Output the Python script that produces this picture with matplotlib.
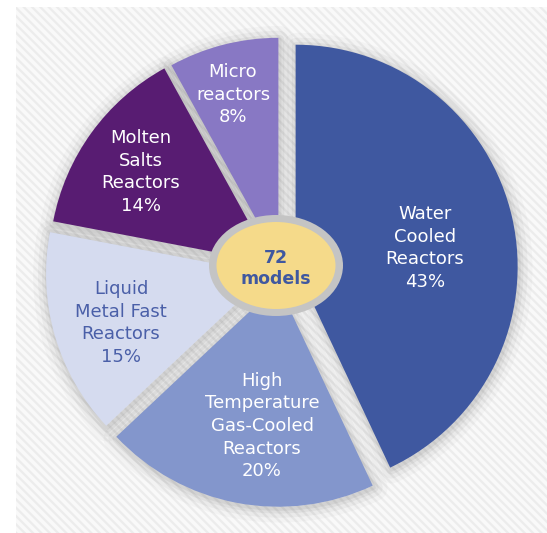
import matplotlib
matplotlib.use("Agg")
import matplotlib.pyplot as plt
from matplotlib.patches import Rectangle, Ellipse, Wedge

# Reactor technology families and their share of the 72 SMR designs
categories = [
    "Water\nCooled\nReactors",
    "High\nTemperature\nGas-Cooled\nReactors",
    "Liquid\nMetal Fast\nReactors",
    "Molten\nSalts\nReactors",
    "Micro\nreactors",
]
shares = [43, 20, 15, 14, 8]
total_models = 72

colors = ["#3f58a0", "#8396cc", "#d5dbef", "#581c72", "#8878c4"]
text_colors = ["white", "white", "#4a5fa8", "white", "white"]

W, H = 547, 533
plt.rcParams["hatch.linewidth"] = 1.6

fig = plt.figure(figsize=(W / 100, H / 100), dpi=100)
fig.patch.set_facecolor("white")
ax = fig.add_axes([0, 0, 1, 1])

# striped backdrop panel
ax.add_patch(Rectangle((16, 7), W - 16, H - 7, facecolor="#f9f9f9",
                       edgecolor="#ececec", hatch="\\\\\\\\", linewidth=0, zorder=0))

# pie geometry in pixel units (explode offsets are in the same units)
R = 222
center = (281, 270)
explode_px = [15, 15, 13.5, 12, 10.5]

wedges, _ = ax.pie(shares, explode=explode_px, colors=colors, startangle=-90,
                   counterclock=True, radius=R, center=center,
                   wedgeprops=dict(linewidth=0, zorder=3))

# soft drop shadow under every slice
for w in wedges:
    cx, cy = w.center
    for lw, a in [(20, 0.025), (13, 0.035), (7, 0.045), (3, 0.05)]:
        ax.add_patch(Wedge((cx + 1, cy + 2), w.r, w.theta1, w.theta2,
                           facecolor="none", edgecolor="black", alpha=a,
                           linewidth=lw, joinstyle="round", zorder=2))

ax.set_xlim(0, W)
ax.set_ylim(H, 0)
ax.set_aspect("equal")
ax.axis("off")

# slice labels
label_xy = [(425, 248), (262, 426), (121, 323), (141, 172), (233, 94.5)]
for name, share, (x, y), tc in zip(categories, shares, label_xy, text_colors):
    ax.text(x, y, f"{name}\n{share}%", ha="center", va="center",
            fontsize=13, color=tc, linespacing=1.33, zorder=6,
            family="DejaVu Sans")

# centre badge
ring_c = (276, 265.5)
ax.add_patch(Ellipse(ring_c, 134, 101, facecolor="#c4c4c4", linewidth=0, zorder=7))
ax.add_patch(Ellipse(ring_c, 119, 87, facecolor="#f5da8a", linewidth=0, zorder=8))
ax.text(ring_c[0], ring_c[1] + 3, f"{total_models}\nmodels", ha="center",
        va="center", fontsize=12.5, fontweight="bold", color="#3f58a0",
        linespacing=1.25, zorder=9, family="DejaVu Sans")

fig.savefig("out.png", dpi=100)
